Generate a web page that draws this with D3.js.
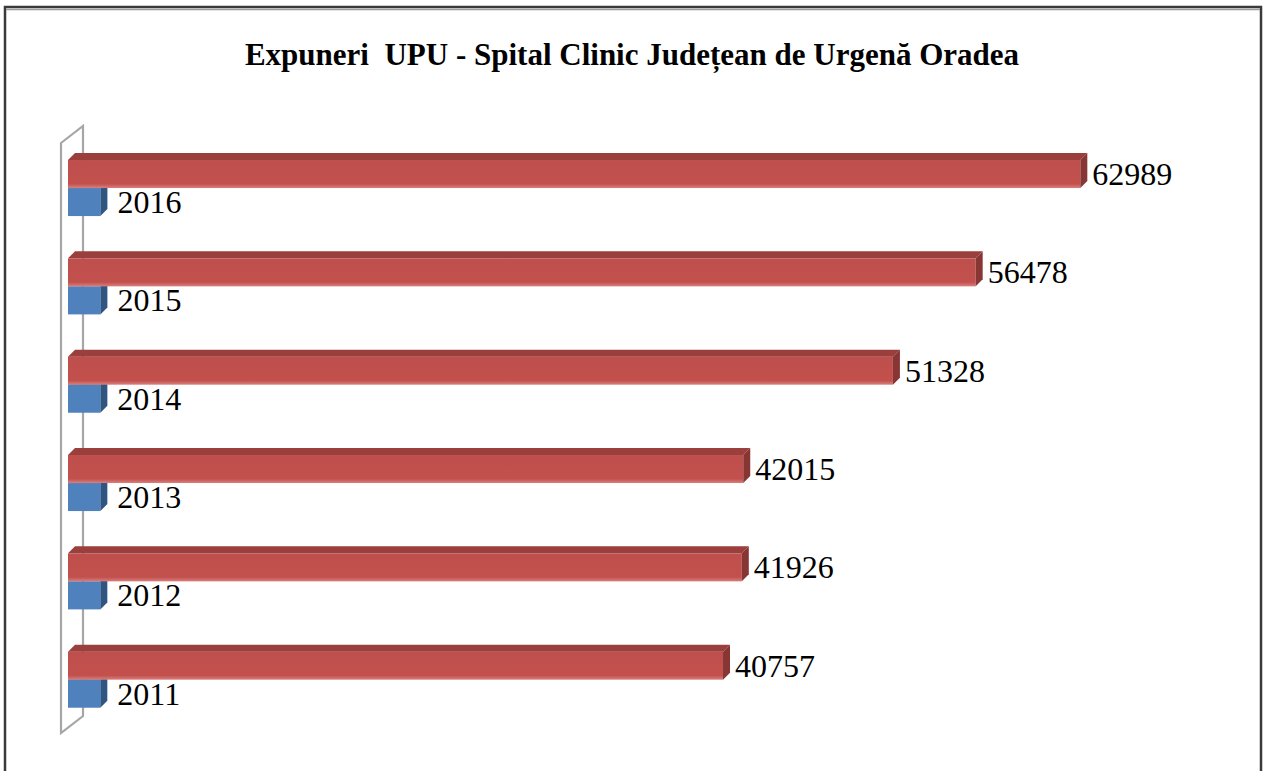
<!DOCTYPE html>
<html lang="ro">
<head>
<meta charset="utf-8">
<title>Expuneri UPU</title>
<script src="https://cdn.jsdelivr.net/npm/d3@7"></script>
<style>
  html, body { margin: 0; padding: 0; background: #fff; }
  svg { display: block; }
</style>
</head>
<body>
<svg id="chart" width="1263" height="771"></svg>
<script>
// data
var years = ['2011', '2012', '2013', '2014', '2015', '2016'];
var yearValues = [2011, 2012, 2013, 2014, 2015, 2016];
var counts = [40757, 41926, 42015, 51328, 56478, 62989];
var title = 'Expuneri  UPU - Spital Clinic Județean de Urgenă Oradea';

var svg = d3.select('#chart');
var depthX = 7, depthY = -7;

// outer frame
svg.append('rect')
  .attr('x', 5).attr('y', 7).attr('width', 1256).attr('height', 790)
  .attr('fill', 'none').attr('stroke', '#3a3a3a').attr('stroke-width', 2.5);
svg.append('line')
  .attr('x1', 6).attr('x2', 1260).attr('y1', 9.5).attr('y2', 9.5)
  .attr('stroke', '#9a9a9a').attr('stroke-width', 1.5);

svg.append('text')
  .attr('x', 632).attr('y', 65)
  .attr('text-anchor', 'middle')
  .attr('font-family', '"Liberation Serif", "Times New Roman", serif')
  .attr('font-weight', 'bold')
  .attr('font-size', 31)
  .style('white-space', 'pre')
  .text(title);

var x = d3.scaleLinear().domain([0, 70000]).range([68, 1193]);
var y = d3.scaleBand().domain(years.slice().reverse()).range([143, 733]).padding(0);
var bw = y.bandwidth();
var barH = bw * 0.285;
var off = bw * 0.173;

// back wall
var wallTop = y.range()[0], wallBot = y.range()[1];
var wallDx = 22, wallDy = -17;
svg.append('path')
  .attr('d', 'M61,' + wallTop + 'L' + (61 + wallDx) + ',' + (wallTop + wallDy) +
    'L' + (61 + wallDx) + ',' + (wallBot + wallDy) + 'L61,' + wallBot + 'Z')
  .attr('fill', '#fff').attr('stroke', '#a6a6a6').attr('stroke-width', 2.2);

var defs = svg.append('defs');
var g1 = defs.append('linearGradient').attr('id', 'redFront')
  .attr('x1', 0).attr('x2', 0).attr('y1', 0).attr('y2', 1);
g1.append('stop').attr('offset', '0%').attr('stop-color', '#bf4f4c');
g1.append('stop').attr('offset', '85%').attr('stop-color', '#c2514e');
g1.append('stop').attr('offset', '100%').attr('stop-color', '#d8807d');

function bar3d(g, x0, x1, top, h, front, topCol, side) {
  g.append('rect').attr('x', x0).attr('y', top).attr('width', x1 - x0).attr('height', h)
    .attr('fill', front);
  g.append('path')
    .attr('d', 'M' + x0 + ',' + top + 'L' + (x0 + depthX) + ',' + (top + depthY) +
      'L' + (x1 + depthX) + ',' + (top + depthY) + 'L' + x1 + ',' + top + 'Z')
    .attr('fill', topCol);
  g.append('path')
    .attr('d', 'M' + x1 + ',' + top + 'L' + (x1 + depthX) + ',' + (top + depthY) +
      'L' + (x1 + depthX) + ',' + (top + depthY + h) + 'L' + x1 + ',' + (top + h) + 'Z')
    .attr('fill', side);
}

var bars = svg.append('g');
years.forEach(function (yr, i) {
  var redTop = y(yr) + off;
  var blueTop = redTop + barH;
  bar3d(bars, x(0), x(yearValues[i]), blueTop, barH, '#4f81bd', '#3d6a9e', '#2f5583');
  bar3d(bars, x(0), x(counts[i]), redTop, barH, 'url(#redFront)', '#9b3f3d', '#873634');
});

var labels = svg.append('g')
  .attr('font-family', '"Liberation Serif", "Times New Roman", serif')
  .attr('font-size', 32)
  .attr('fill', '#000');
years.forEach(function (yr, i) {
  var redTop = y(yr) + off;
  var blueTop = redTop + barH;
  labels.append('text')
    .attr('x', x(counts[i]) + depthX + 5)
    .attr('y', redTop + barH / 2 + 11)
    .text(counts[i]);
  labels.append('text')
    .attr('x', x(yearValues[i]) + depthX + 10)
    .attr('y', blueTop + barH / 2 + 11)
    .text(yearValues[i]);
});
</script>
</body>
</html>
